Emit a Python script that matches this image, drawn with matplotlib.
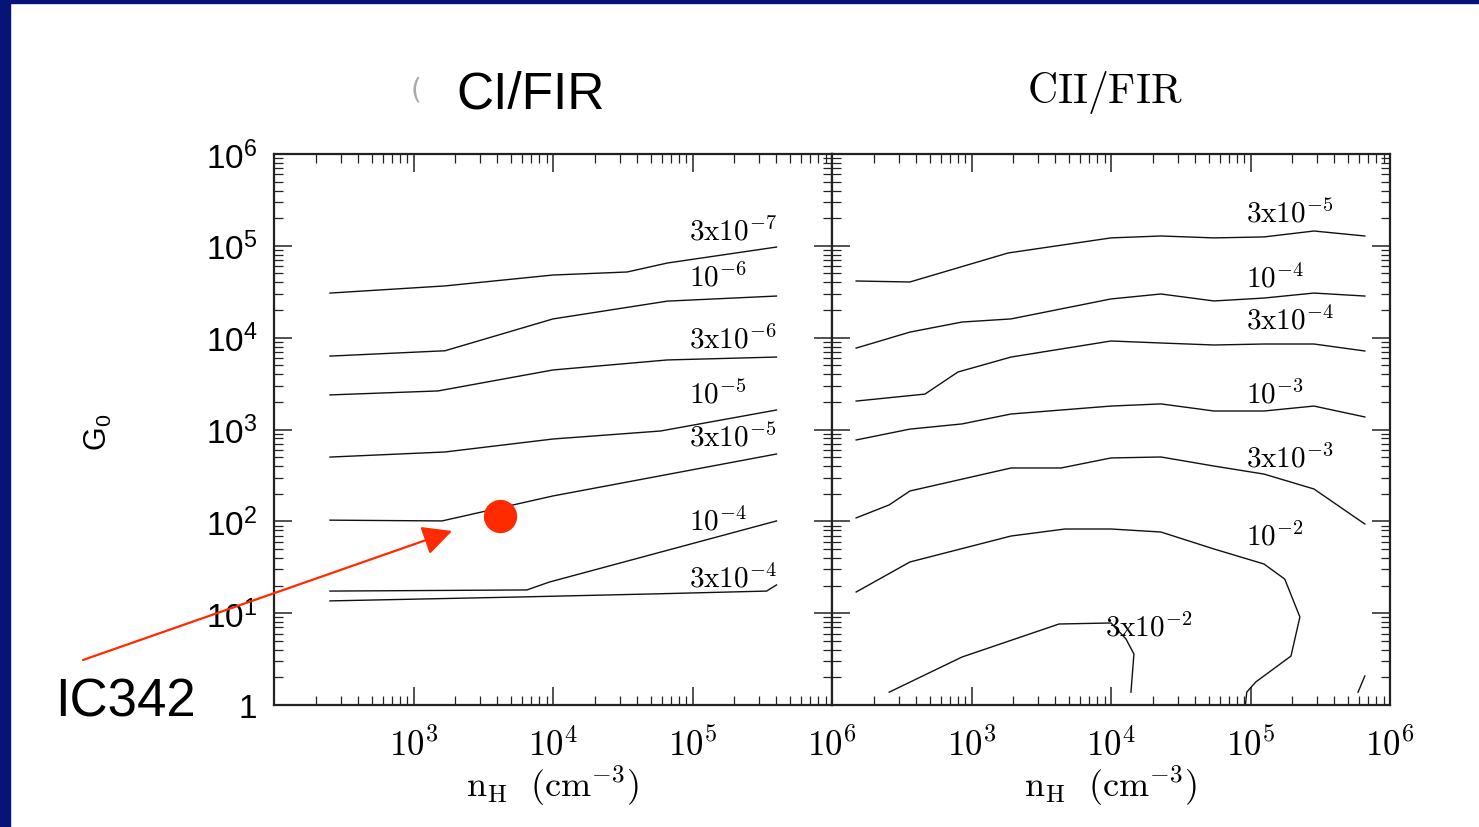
import numpy as np
import matplotlib
matplotlib.use("Agg")
import matplotlib.pyplot as plt
from matplotlib.ticker import LogLocator, NullFormatter, FixedLocator
from matplotlib.patches import Rectangle

plt.rcParams['mathtext.fontset'] = 'cm'

# ---- CI/FIR contours: n_H (cm^-3) vs G_0 ----
ci_3e7_n = [252, 1680, 1.0e4, 3.4e4, 6.6e4, 4.0e5]
ci_3e7_g = [3.06e4, 3.66e4, 4.81e4, 5.19e4, 6.5e4, 9.7e4]
ci_1e6_n = [252, 1680, 1.0e4, 6.6e4, 4.0e5]
ci_1e6_g = [6.3e3, 7.2e3, 1.6e4, 2.5e4, 2.84e4]
ci_3e6_n = [252, 1500, 1.0e4, 6.6e4, 4.0e5]
ci_3e6_g = [2.38e3, 2.63e3, 4.45e3, 5.72e3, 6.15e3]
ci_1e5_n = [252, 1680, 1.0e4, 5.9e4, 4.0e5]
ci_1e5_g = [501, 569, 788, 963, 1630]
ci_3e5_n = [252, 1600, 1.0e4, 4.0e5]
ci_3e5_g = [103, 101, 189, 541]
ci_1e4_n = [252, 6500, 9.4e3, 4.0e5]
ci_1e4_g = [17.4, 17.9, 21.8, 101]
ci_3e4_n = [252, 5700, 5.2e4, 3.4e5, 4.0e5]
ci_3e4_g = [13.6, 15.0, 16.2, 17.4, 20.3]

ci_lines = [(ci_3e7_n, ci_3e7_g), (ci_1e6_n, ci_1e6_g), (ci_3e6_n, ci_3e6_g),
            (ci_1e5_n, ci_1e5_g), (ci_3e5_n, ci_3e5_g), (ci_1e4_n, ci_1e4_g),
            (ci_3e4_n, ci_3e4_g)]
ci_labels = [r'$\mathrm{3x10^{-7}}$', r'$\mathrm{10^{-6}}$', r'$\mathrm{3x10^{-6}}$',
             r'$\mathrm{10^{-5}}$', r'$\mathrm{3x10^{-5}}$', r'$\mathrm{10^{-4}}$',
             r'$\mathrm{3x10^{-4}}$']
ci_label_n = [9.4e4] * 7
ci_label_g = [1.45e5, 4.58e4, 9.66e3, 2.43e3, 828, 101, 24.2]

# ---- CII/FIR contours ----
cii_3e5_n = [149, 362, 1830, 1.0e4, 2.28e4, 5.47e4, 1.25e5, 2.85e5, 6.6e5]
cii_3e5_g = [4.14e4, 4.04e4, 8.36e4, 1.22e5, 1.28e5, 1.22e5, 1.25e5, 1.45e5, 1.28e5]
cii_1e4_n = [149, 362, 855, 1920, 1.0e4, 2.28e4, 5.47e4, 1.25e5, 2.85e5, 6.6e5]
cii_1e4_g = [7.7e3, 1.15e4, 1.48e4, 1.6e4, 2.64e4, 2.99e4, 2.51e4, 2.7e4, 3.06e4, 2.84e4]
cii_3e4_n = [149, 464, 800, 1920, 1.0e4, 2.28e4, 5.47e4, 1.25e5, 2.85e5, 6.6e5]
cii_3e4_g = [2.04e3, 2.43e3, 4.23e3, 6.15e3, 9.2e3, 8.75e3, 8.32e3, 8.53e3, 8.53e3, 7.16e3]
cii_1e3_n = [149, 362, 855, 1920, 1.0e4, 2.28e4, 5.47e4, 1.25e5, 2.85e5, 6.6e5]
cii_1e3_g = [769, 1010, 1150, 1475, 1800, 1900, 1590, 1590, 1800, 1370]
cii_3e3_n = [149, 257, 362, 1920, 4380, 1.0e4, 2.28e4, 5.47e4, 1.25e5, 2.85e5, 6.6e5]
cii_3e3_g = [109, 151, 214, 381, 381, 490, 502, 400, 327, 225, 93.5]
cii_1e2_n = [149, 362, 1920, 4680, 1.0e4, 2.28e4, 5.47e4, 1.25e5, 1.76e5, 2.26e5,
             1.95e5, 1.09e5, 9.4e4, 9.2e4]
cii_1e2_g = [17.0, 36.1, 69.2, 82.5, 82.5, 76.5, 50.0, 34.3, 23.5, 9.09,
             3.41, 1.78, 1.38, 1.0]
cii_3e2_n = [257, 855, 4240, 1.0e4, 1.28e4, 1.46e4, 1.39e4]
cii_3e2_g = [1.38, 3.33, 7.62, 7.82, 5.24, 3.59, 1.38]
cii_edge_n = [5.9e5, 6.6e5]
cii_edge_g = [1.38, 2.07]

cii_lines = [(cii_3e5_n, cii_3e5_g), (cii_1e4_n, cii_1e4_g), (cii_3e4_n, cii_3e4_g),
             (cii_1e3_n, cii_1e3_g), (cii_3e3_n, cii_3e3_g), (cii_1e2_n, cii_1e2_g),
             (cii_3e2_n, cii_3e2_g), (cii_edge_n, cii_edge_g)]
cii_labels = [r'$\mathrm{3x10^{-5}}$', r'$\mathrm{10^{-4}}$', r'$\mathrm{3x10^{-4}}$',
              r'$\mathrm{10^{-3}}$', r'$\mathrm{3x10^{-3}}$', r'$\mathrm{10^{-2}}$',
              r'$\mathrm{3x10^{-2}}$']
cii_label_n = [9.3e4, 9.3e4, 9.3e4, 9.3e4, 9.3e4, 9.3e4, 9.06e3]
cii_label_g = [2.28e5, 4.47e4, 1.56e4, 2.43e3, 490, 69.2, 7.06]

# IC342 point and arrow tip
ic342_n, ic342_g = 4170, 114
arrow_tip = (1890, 78.5)

xtick_vals = [1e3, 1e4, 1e5, 1e6]
xtick_text = [r'$\mathrm{10^{3}}$', r'$\mathrm{10^{4}}$', r'$\mathrm{10^{5}}$', r'$\mathrm{10^{6}}$']
ytick_vals = [1, 1e1, 1e2, 1e3, 1e4, 1e5, 1e6]
ytick_text = [r'$\mathdefault{1}$'] + [r'$\mathdefault{10^{%d}}$' % k for k in range(1, 7)]

W, H = 1479, 828
fig = plt.figure(figsize=(W / 100, H / 100), dpi=100)
fig.patch.set_facecolor('white')

# slide border
fig.add_artist(Rectangle((0, 0), 10 / W, 1, transform=fig.transFigure, color='#06147a', zorder=0))
fig.add_artist(Rectangle((0, 1 - 4 / H), 1, 4 / H, transform=fig.transFigure, color='#06147a', zorder=0))

ax1 = fig.add_axes([274 / W, 1 - 706 / H, 558 / W, 551 / H])
ax2 = fig.add_axes([832 / W, 1 - 706 / H, 558 / W, 551 / H])

for ax, lines, labels, ln, lg in [(ax1, ci_lines, ci_labels, ci_label_n, ci_label_g),
                                  (ax2, cii_lines, cii_labels, cii_label_n, cii_label_g)]:
    ax.set_xscale('log')
    ax.set_yscale('log')
    ax.set_xlim(1e2, 1e6)
    ax.set_ylim(1, 1e6)
    for n, g in lines:
        ax.plot(n, g, color='#111111', lw=1.0)
    for txt, x, y in zip(labels, ln, lg):
        ax.text(x, y, txt, fontsize=21, ha='left', va='center')
    ax.xaxis.set_major_locator(FixedLocator(xtick_vals))
    ax.set_xticklabels(xtick_text, fontsize=25)
    ax.xaxis.set_minor_locator(LogLocator(base=10, subs=np.arange(2, 10), numticks=50))
    ax.yaxis.set_major_locator(FixedLocator(ytick_vals))
    ax.yaxis.set_minor_locator(LogLocator(base=10, subs=np.arange(2, 10), numticks=50))
    ax.xaxis.set_minor_formatter(NullFormatter())
    ax.yaxis.set_minor_formatter(NullFormatter())
    ax.tick_params(which='both', direction='in', top=True, right=True, color='#222222')
    ax.tick_params(which='major', length=13, width=1.1)
    ax.tick_params(which='minor', length=6.5, width=0.9)
    ax.tick_params(axis='x', pad=16)
    for s in ax.spines.values():
        s.set_linewidth(1.6)
        s.set_color('#222222')
    ax.set_xlabel(r'$\mathrm{n_H\ \ (cm^{-3})}$', fontsize=26, labelpad=0)

ax1.set_yticklabels(ytick_text, fontsize=24, family='Liberation Sans')
ax1.tick_params(axis='y', pad=12)
ax2.set_yticklabels([])

# IC342 marker and arrow
ax1.plot(ic342_n, ic342_g, 'o', ms=24, color='#ff2a00', mew=0, zorder=5)
ax1.annotate('', xy=arrow_tip, xycoords='data',
             xytext=(83 / W, 1 - 661 / H), textcoords='figure fraction',
             arrowprops=dict(arrowstyle='-|>,head_length=0.6,head_width=0.3',
                             color='#ff2a00', lw=1.6, mutation_scale=30,
                             shrinkA=0, shrinkB=0),
             annotation_clip=False, zorder=6)

fig.text(125 / W, 1 - 703 / H, 'IC342', fontsize=38, family='Liberation Sans',
         ha='center', va='center')
fig.text(531 / W, 1 - 95 / H, 'CI/FIR', fontsize=37, family='Liberation Sans',
         ha='center', va='center')
fig.text(416 / W, 1 - 90 / H, '(', fontsize=20, color='#aaaaaa',
         ha='center', va='center')
fig.text(1105 / W, 1 - 92 / H, r'$\mathrm{CII/FIR}$', fontsize=30,
         ha='center', va='center')
fig.text(98 / W, 1 - 432 / H, r'$\mathdefault{G_0}$', fontsize=22, family='Liberation Sans',
         rotation=90, ha='center', va='center')

fig.savefig('out.png', dpi=100)
